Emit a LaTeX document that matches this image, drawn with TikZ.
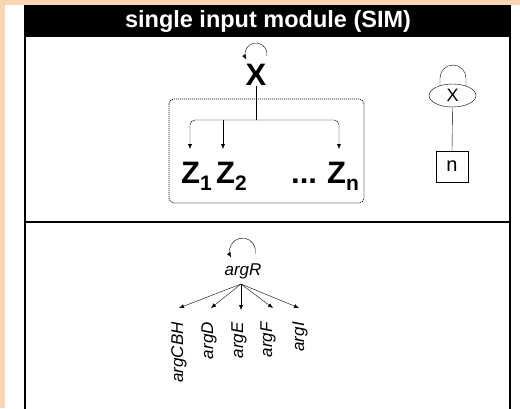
\documentclass[tikz,border=0pt]{standalone}
\usepackage{fontspec}
\setmainfont{Liberation Sans}
\usetikzlibrary{arrows.meta,shapes.geometric}
\definecolor{peach}{RGB}{249,214,178}
\tikzset{
  tip/.style={-{Latex[length=5pt,width=4pt]}},
  big/.style={font=\bfseries\fontsize{31}{33}\selectfont, inner sep=0pt},
  gene/.style={font=\itshape\fontsize{17}{19}\selectfont, inner sep=0pt},
  small/.style={font=\fontsize{18}{20}\selectfont},
}
\newcommand{\zsub}[1]{Z\raisebox{-7pt}{\fontsize{21}{21}\selectfont #1}}
\begin{document}
\begin{tikzpicture}[x=1pt,y=-1pt]
\useasboundingbox (0,0) rectangle (520,408);
\fill[white] (0,0) rectangle (520,408);
\fill[peach] (0,0) rectangle (5,408);
\fill[peach] (0,0) rectangle (520,5);
% panel
\fill[black] (24,5) rectangle (511,37);
\draw[line width=2pt] (25,37) -- (25,410);
\draw[line width=2pt] (509.7,37) -- (509.7,410);
\draw[line width=1.5pt] (25,222) -- (509.7,222);
\node[text=white, font=\bfseries\fontsize{23.5}{25}\selectfont] (title) at (268,21) {single input module (SIM)};
% SIM left
\node[big] (x) at (256,75) {X};
\draw[tip] (266.8,55.9) arc[start angle=10, end angle=-210, radius=11];
\draw[line width=0.8pt, dash pattern=on 1pt off 1pt, rounded corners=5pt] (169,99) rectangle (364,203);
\node[big, anchor=base west] (z1) at (181,183) {\zsub{1}};
\node[big, anchor=base west] (z2) at (216,183) {\zsub{2}};
\node[big, anchor=base west] (dots) at (291,183) {...};
\node[big, anchor=base west] (zn) at (327,183) {\zsub{n}};
\coordinate (bus) at (256,120);
\coordinate (t1) at (190,149);
\coordinate (t2) at (223,149);
\coordinate (tn) at (339,149);
\draw (x.south) -- (bus);
\draw[tip, rounded corners=5pt] (bus) -| (t1);
\draw[tip] (t2 |- bus) -- (t2);
\draw[tip, rounded corners=5pt] (bus) -| (tn);
% SIM right
\node[draw, ellipse, minimum width=47pt, minimum height=23pt, inner sep=0pt, small] (ex) at (452.5,95.5) {X};
\draw (440,86) -- (440,78) arc[start angle=180, end angle=360, radius=13] -- (466,86);
\node[draw, minimum width=32pt, minimum height=31pt, inner sep=0pt, font=\fontsize{20}{22}\selectfont] (n) at (452,166.5) {n};
\draw (ex.south) -- (n.north);
% bottom
\node[gene] (argR) at (243,271) {argR};
\draw[tip] (255.3,253.3) arc[start angle=10, end angle=-210, radius=13];
\coordinate (src) at (241,284);
\node[gene, rotate=90, anchor=base east] (g1) at (183,322) {argCBH};
\node[gene, rotate=90, anchor=base east] (g2) at (213,322) {argD};
\node[gene, rotate=90, anchor=base east] (g3) at (243,322) {argE};
\node[gene, rotate=90, anchor=base east] (g4) at (272,322) {argF};
\node[gene, rotate=90, anchor=base east] (g5) at (304,322) {argI};
\draw[tip] (src) -- (179,308);
\draw[tip] (src) -- (211,308);
\draw[tip] (src) -- (241,310);
\draw[tip] (src) -- (273,308);
\draw[tip] (src) -- (299,308);
\end{tikzpicture}
\end{document}
